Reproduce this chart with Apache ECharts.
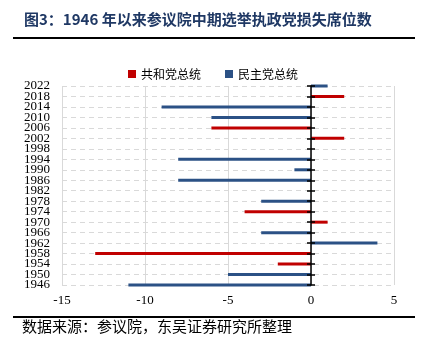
<!DOCTYPE html>
<html>
<head>
<meta charset="utf-8">
<script src="https://cdn.jsdelivr.net/npm/echarts@6/dist/echarts.min.js"></script>
<style>
  html, body { margin: 0; padding: 0; background: #fff; }
  #main { width: 426px; height: 351px; }
</style>
</head>
<body>
<div id="main"></div>
<script>
// 年份（自下而上）
const years = ['1946', '1950', '1954', '1958', '1962', '1966', '1970', '1974', '1978', '1982',
               '1986', '1990', '1994', '1998', '2002', '2006', '2010', '2014', '2018', '2022'];
// 共和党总统任内中期选举执政党席位变化
const repSeats = [0, 0, -2, -13, 0, 0, 1, -4, 0, 0,
                  0, 0, 0, 0, 2, -6, 0, 0, 2, 0];
// 民主党总统任内中期选举执政党席位变化
const demSeats = [-11, -5, 0, 0, 4, -3, 0, 0, -3, 0,
                  -8, -1, -8, 0, 0, 0, -6, -9, 0, 1];
const xTicks = { min: -15, max: 5, step: 5 };

const chart = echarts.init(document.getElementById('main'));

const serif = '"Liberation Serif", "Times New Roman", serif';
const cjk = '"Noto Sans CJK SC", sans-serif';

const grid = { left: 62, right: 32, top: 86, bottom: 66 };
// 0 刻度线相对左边框的偏移（负值向右）
const gridWidth = 426 - grid.left - grid.right;
const zeroOffset = -(0 - xTicks.min) / (xTicks.max - xTicks.min) * gridWidth;

const option = {
    backgroundColor: '#fff',
    animation: false,
    grid: grid,
    legend: {
        top: 63,
        left: 'center',
        itemWidth: 8,
        itemHeight: 8,
        itemGap: 24,
        icon: 'rect',
        textStyle: { fontFamily: cjk, fontSize: 12, color: '#000' },
        data: ['共和党总统', '民主党总统']
    },
    xAxis: {
        type: 'value',
        min: xTicks.min,
        max: xTicks.max,
        interval: xTicks.step,
        axisLine: { show: false },
        axisTick: { show: false },
        axisLabel: { color: '#000', fontFamily: serif, fontSize: 13, margin: 9 },
        splitLine: { show: true, lineStyle: { color: '#d9d9d9', width: 1 } }
    },
    yAxis: [{
        // 标签轴
        type: 'category',
        data: years,
        boundaryGap: false,
        axisLine: { show: false, onZero: false },
        axisTick: { show: false },
        axisLabel: { interval: 0, color: '#000', fontFamily: serif, fontSize: 13, margin: 12 },
        splitLine: { show: true, lineStyle: { color: '#d9d9d9', type: [5, 4], width: 1 } }
    }, {
        // 0 处坐标轴线，刻度向左
        type: 'category',
        data: years,
        position: 'left',
        offset: zeroOffset,
        z: 5,
        boundaryGap: false,
        axisLine: { show: true, onZero: false, lineStyle: { color: '#000', width: 1.5 } },
        axisTick: { show: true, interval: 0, inside: false, length: 4, lineStyle: { color: '#000', width: 1.5 } },
        axisLabel: { show: false },
        splitLine: { show: false }
    }, {
        // 刻度向右
        type: 'category',
        data: years,
        position: 'left',
        offset: zeroOffset,
        z: 5,
        boundaryGap: false,
        axisLine: { show: false, onZero: false },
        axisTick: { show: true, interval: 0, inside: true, length: 4, lineStyle: { color: '#000', width: 1.5 } },
        axisLabel: { show: false },
        splitLine: { show: false }
    }],
    series: [{
        name: '共和党总统',
        type: 'bar',
        stack: 'seats',
        data: repSeats,
        barWidth: 3,
        itemStyle: { color: '#C00000' }
    }, {
        name: '民主党总统',
        type: 'bar',
        stack: 'seats',
        data: demSeats,
        barWidth: 3,
        itemStyle: { color: '#2B5185' }
    }],
    graphic: [{
        type: 'text',
        left: 24,
        top: 12,
        style: {
            text: '图3：1946 年以来参议院中期选举执政党损失席位数',
            font: 'bold 15px "Noto Sans CJK SC", sans-serif',
            fill: '#1F3864'
        }
    }, {
        type: 'line',
        shape: { x1: 13, y1: 38, x2: 415, y2: 38 },
        style: { stroke: '#000', lineWidth: 2 }
    }, {
        type: 'line',
        shape: { x1: 13, y1: 317, x2: 415, y2: 317 },
        style: { stroke: '#000', lineWidth: 2 }
    }, {
        type: 'text',
        left: 22,
        top: 319,
        style: {
            text: '数据来源：参议院，东吴证券研究所整理',
            font: '15px "Noto Sans CJK SC", sans-serif',
            fill: '#000'
        }
    }]
};

chart.setOption(option);
</script>
</body>
</html>
